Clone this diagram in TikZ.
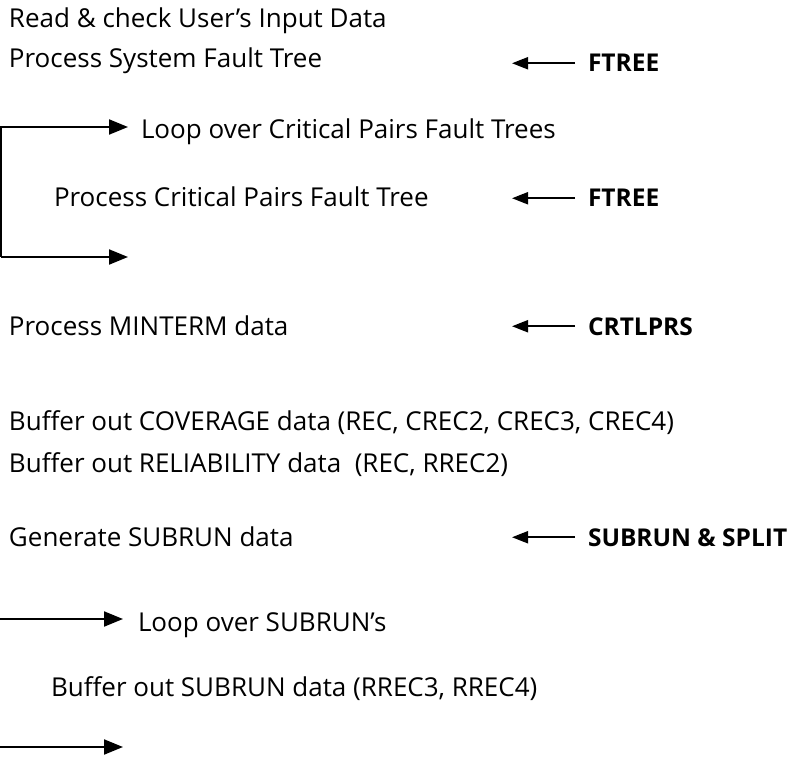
\documentclass[tikz,border=0pt]{standalone}
\usepackage{fontspec}
\setmainfont{Open Sans}
\usetikzlibrary{arrows.meta}
\begin{document}
\begin{tikzpicture}[x=1pt,y=-1pt,line width=2pt,
	txt/.style={anchor=base west, inner sep=0pt, font=\fontsize{26}{30}\selectfont},
	mod/.style={txt, font=\fontsize{24.5}{30}\selectfont\bfseries},
	arr/.style={-{Triangle[length=19pt,width=15pt]}},
	back/.style={-{Triangle[length=16pt,width=12pt]}}]
	\useasboundingbox (0,0) rectangle (790,757);
	\node (read)    at (8, 28)	[txt]	{Read \& check User’s Input Data};
	\node (sysft)   at (8, 68)	[txt]	{Process System Fault Tree};
	\node (ftreeA)  at (587, 72)	[mod]	{FTREE};
	\node (loopA)   at (140, 139)	[txt]	{Loop over Critical Pairs Fault Trees};
	\node (pairft)  at (53, 207)	[txt]	{Process Critical Pairs Fault Tree};
	\node (ftreeB)  at (587, 207)	[mod]	{FTREE};
	\node (minterm) at (8, 335)	[txt]	{Process MINTERM data};
	\node (crtl)    at (587, 335)	[mod]	{CRTLPRS};
	\node (cover)   at (8, 430)	[txt]	{Buffer out COVERAGE data (REC, CREC2, CREC3, CREC4)};
	\node (relia)   at (8, 472)	[txt]	{Buffer out RELIABILITY data\ \ (REC, RREC2)};
	\node (gensub)  at (8, 546)	[txt]	{Generate SUBRUN data};
	\node (split)   at (587, 546)	[mod]	{SUBRUN \& SPLIT};
	\node (loopB)   at (137, 631)	[txt]	{Loop over SUBRUN’s};
	\node (bufsub)  at (50, 696)	[txt]	{Buffer out SUBRUN data (RREC3, RREC4)};
	\coordinate (tip) at (512, 0);
	\coordinate (loopAin)  at (1, 127);
	\coordinate (loopAout) at (1, 257);
	\coordinate (loopAend) at (128, 257);
	\coordinate (loopBin)  at (0, 619);
	\coordinate (loopBout) at (0, 747);
	\coordinate (loopBend) at (123, 747);
	\draw[back] (ftreeA.west) ++(-12,0) -- (ftreeA.west -| tip);
	\draw[back] (ftreeB.west) ++(-12,0) -- (ftreeB.west -| tip);
	\draw[back] (crtl.west) ++(-12,0) -- (crtl.west -| tip);
	\draw[back] (split.west) ++(-12,0) -- (split.west -| tip);
	\draw[arr, shorten >=12pt] (loopAout) -- (loopAin) -- (loopAin -| loopA.west);
	\draw[arr] (loopAout) -- (loopAend);
	\draw[arr, shorten >=14pt] (loopBin) -- (loopBin -| loopB.west);
	\draw[arr] (loopBout) -- (loopBend);
\end{tikzpicture}
\end{document}
